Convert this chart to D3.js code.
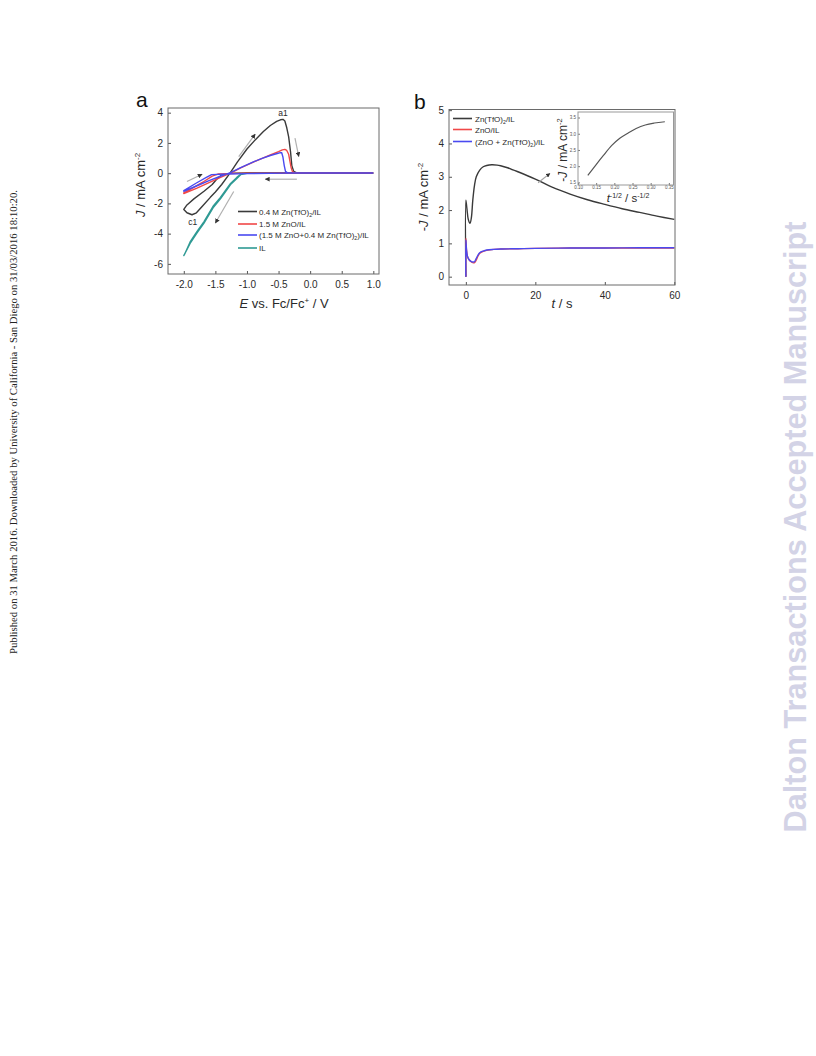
<!DOCTYPE html>
<html><head><meta charset="utf-8">
<script src="https://cdn.jsdelivr.net/npm/d3@7"></script>
<style>body{margin:0;background:#fff} svg{display:block}</style>
</head><body>
<svg id="c" width="816" height="1056"></svg>
<script>
// ---------- DATA ----------
const aXTicks = [-2.0,-1.5,-1.0,-0.5,0.0,0.5,1.0];
const aYTicks = [4,2,0,-2,-4,-6];
const bXTicks = [0,20,40,60];
const bYTicks = [0,1,2,3,4,5];
const inXTicks = [0.10,0.15,0.20,0.25,0.30,0.35];
const inYTicks = [1.5,2.0,2.5,3.0,3.5];

// Panel a: CV curves [E, J]
const cvZnTfO = [[1.0,0.01],[0.5,0.01],[0,0.01],[-0.5,0.01],[-1.0,0.01],[-1.2,0],[-1.3,-0.03],[-1.4,-0.12],[-1.48,-0.4],[-1.55,-0.75],[-1.68,-1.2],[-1.84,-1.7],[-1.95,-2.1],[-2.0,-2.4],[-1.95,-2.62],[-1.87,-2.75],[-1.8,-2.62],[-1.71,-2.2],[-1.58,-1.6],[-1.5,-1.25],[-1.4,-0.75],[-1.26,0.05],[-1.15,0.75],[-1.0,1.6],[-0.87,2.2],[-0.74,2.75],[-0.63,3.15],[-0.53,3.42],[-0.47,3.53],[-0.43,3.56],[-0.4,3.45],[-0.37,3.0],[-0.34,2.4],[-0.31,1.4],[-0.29,0.5],[-0.26,0.12],[-0.22,0.03],[0,0.01],[0.5,0.01],[1.0,0.01]];
const cvZnO = [[1.0,0.0],[0.0,0.0],[-1.0,0.0],[-1.45,-0.05],[-1.55,-0.2],[-1.7,-0.6],[-1.85,-0.95],[-2.0,-1.3],[-2.0,-1.35],[-1.8,-1.0],[-1.6,-0.62],[-1.4,-0.25],[-1.26,0.0],[-1.1,0.35],[-0.89,0.75],[-0.75,1.0],[-0.63,1.2],[-0.5,1.42],[-0.44,1.54],[-0.4,1.57],[-0.37,1.5],[-0.34,1.25],[-0.32,0.8],[-0.3,0.35],[-0.28,0.1],[-0.25,0.02],[0,0.01],[1.0,0.01]];
const cvMix = [[1.0,0.0],[0.0,0.0],[-0.4,0.0],[-1.0,-0.03],[-1.3,-0.06],[-1.56,-0.1],[-1.65,-0.3],[-1.8,-0.65],[-2.0,-1.15],[-2.0,-1.2],[-1.8,-0.85],[-1.6,-0.5],[-1.4,-0.17],[-1.26,0.03],[-1.1,0.36],[-0.89,0.76],[-0.75,1.0],[-0.63,1.17],[-0.52,1.3],[-0.47,1.36],[-0.45,1.35],[-0.43,1.05],[-0.41,0.5],[-0.39,0.12],[-0.36,0.02],[0,0.01],[1.0,0.01]];
const cvIL = [[1.0,0.0],[0.0,0.0],[-0.9,0.0],[-1.0,-0.01],[-1.1,-0.1],[-1.16,-0.35],[-1.26,-0.75],[-1.42,-1.7],[-1.53,-2.25],[-1.68,-3.3],[-1.79,-3.95],[-1.9,-4.65],[-2.0,-5.45],[-1.98,-5.3],[-1.9,-4.55],[-1.79,-3.85],[-1.68,-3.2],[-1.53,-2.15],[-1.42,-1.6],[-1.26,-0.68],[-1.16,-0.28],[-1.1,-0.07],[-1.0,0.0],[0.0,0.0],[1.0,0.0]];

// Panel b: chronoamperometry [t, -J]
const caZnTfO = [[0,0],[0,2.3],[0.3,2.05],[0.7,1.72],[1.2,1.6],[1.6,1.78],[2.0,2.3],[2.5,2.75],[3,3.0],[4,3.2],[5,3.3],[6,3.34],[7.5,3.36],[9,3.35],[10,3.33],[12,3.27],[15,3.15],[20,2.93],[25,2.68],[30,2.48],[35,2.31],[40,2.17],[45,2.04],[50,1.93],[55,1.82],[60,1.72]];
const caZnO = [[0,0],[0,1.15],[0.2,0.8],[0.5,0.6],[1,0.5],[1.5,0.45],[2,0.42],[2.5,0.42],[3,0.5],[3.5,0.62],[4,0.7],[5,0.76],[6,0.79],[8,0.82],[10,0.83],[15,0.84],[20,0.85],[30,0.86],[40,0.86],[50,0.86],[60,0.86]];
const caMix = [[0,0],[0,1.1],[0.2,0.8],[0.5,0.6],[1,0.5],[1.5,0.46],[2,0.44],[2.5,0.45],[3,0.55],[3.5,0.65],[4,0.72],[5,0.77],[6,0.8],[8,0.82],[10,0.83],[15,0.84],[20,0.85],[30,0.86],[40,0.86],[50,0.87],[60,0.87]];
// Inset: [t^-1/2, -J]
const insetData = [[0.127,1.72],[0.15,2.05],[0.17,2.33],[0.193,2.64],[0.215,2.86],[0.239,3.03],[0.26,3.16],[0.285,3.27],[0.31,3.33],[0.339,3.37]];

const colors = {black:"#3a3a3a", red:"#f04848", blue:"#4a4af0", teal:"#2f9a94"};

// ---------- DRAW ----------
const svg = d3.select("#c");
const F = "Liberation Sans, Arial, sans-serif";
const txt = "#2a2a2a";

svg.append("defs").append("marker").attr("id","ah").attr("viewBox","0 0 10 10")
  .attr("refX",9).attr("refY",5).attr("markerWidth",4).attr("markerHeight",4).attr("orient","auto")
  .append("path").attr("d","M0,0L10,5L0,10z").attr("fill","#333");

function frame(g, x0,y0,x1,y1, stroke){
  g.append("rect").attr("x",x0).attr("y",y0).attr("width",x1-x0).attr("height",y1-y0)
    .attr("fill","none").attr("stroke",stroke||"#6a6a6a").attr("stroke-width",1);
}

// ===== Panel a =====
const ax = d3.scaleLinear().domain([-2.25,1.09]).range([168,379]);
const ay = d3.scaleLinear().domain([-6.67,4.31]).range([274,108]);
const ga = svg.append("g");
const lineA = d3.line().x(d=>ax(d[0])).y(d=>ay(d[1]));

const axA = ga.append("g").attr("transform","translate(0,274)")
  .call(d3.axisBottom(ax).tickValues(aXTicks).tickFormat(d=> d<0 ? "-"+Math.abs(d).toFixed(1) : d.toFixed(1)).tickSizeInner(-3).tickSizeOuter(0).tickPadding(7));
const ayA = ga.append("g").attr("transform","translate(168,0)")
  .call(d3.axisLeft(ay).tickValues(aYTicks).tickFormat(d=> d<0 ? "-"+Math.abs(d) : String(d)).tickSizeInner(-3).tickSizeOuter(0).tickPadding(5));
[axA,ayA].forEach(a=>{a.select(".domain").remove(); a.selectAll("line").attr("stroke","#555");
  a.selectAll("text").attr("font-family",F).attr("font-size",10).attr("fill",txt);});

[[cvIL,colors.teal],[cvZnTfO,colors.black],[cvZnO,colors.red],[cvMix,colors.blue]].forEach(([d,c])=>{
  ga.append("path").datum(d).attr("d",lineA).attr("fill","none").attr("stroke",c).attr("stroke-width",1.4).attr("stroke-linejoin","round");
});
frame(ga,168,108,379,274);

const arrowsA = [[[-1.95,-0.55],[-1.71,-0.07]],[[-1.13,1.1],[-0.87,2.58]],[[-0.24,2.31],[-0.18,1.1]],[[-0.21,-0.4],[-0.71,-0.4]],[[-1.21,-1.21],[-1.5,-3.3]]];
arrowsA.forEach(([p,q])=>{
  ga.append("line").attr("x1",ax(p[0])).attr("y1",ay(p[1])).attr("x2",ax(q[0])).attr("y2",ay(q[1]))
    .attr("stroke","#b0b0b0").attr("stroke-width",1.2).attr("marker-end","url(#ah)");
});
ga.append("text").attr("x",ax(-0.43)).attr("y",ay(3.56)-3).attr("text-anchor","middle").attr("font-family",F).attr("font-size",8.5).attr("fill",txt).text("a1");
ga.append("text").attr("x",ax(-1.86)).attr("y",ay(-3.45)).attr("text-anchor","middle").attr("font-family",F).attr("font-size",8.5).attr("fill",txt).text("c1");

const legA = [
  {c:colors.black, parts:[["0.4 M Zn(TfO)",0],["2",1],["/IL",0]]},
  {c:colors.red, parts:[["1.5 M ZnO/IL",0]]},
  {c:colors.blue, parts:[["(1.5 M ZnO+0.4 M Zn(TfO)",0],["2",1],[")/IL",0]]},
  {c:colors.teal, parts:[["IL",0]]}
];
const legAy = [211.5,224,235,248];
function legendRows(g, items, ys, x0, x1, tx, fs){
  items.forEach((it,i)=>{
    g.append("line").attr("x1",x0).attr("x2",x1).attr("y1",ys[i]).attr("y2",ys[i]).attr("stroke",it.c).attr("stroke-width",1.6);
    const t = g.append("text").attr("x",tx).attr("y",ys[i]+3).attr("font-family",F).attr("font-size",fs).attr("fill",txt);
    let shifted=false;
    it.parts.forEach(([s,sub])=>{
      const sp = t.append("tspan").text(s);
      if(sub){ sp.attr("font-size",fs*0.65).attr("dy",2); shifted=true; }
      else if(shifted){ sp.attr("dy",-2); shifted=false; }
    });
  });
}
legendRows(ga, legA, legAy, 238, 257, 259, 8);

const tya = ga.append("text").attr("transform","translate(145,185) rotate(-90)").attr("text-anchor","middle")
  .attr("font-family",F).attr("font-size",13).attr("fill",txt);
tya.append("tspan").attr("font-style","italic").text("J");
tya.append("tspan").text(" / mA cm");
tya.append("tspan").attr("font-size",8).attr("dy",-5).text("-2");
const txa = ga.append("text").attr("x",284).attr("y",308).attr("text-anchor","middle").attr("font-family",F).attr("font-size",13).attr("fill",txt);
txa.append("tspan").attr("font-style","italic").text("E");
txa.append("tspan").text(" vs. Fc/Fc");
txa.append("tspan").attr("font-size",8).attr("dy",-5).text("+");
txa.append("tspan").attr("dy",5).text(" / V");
ga.append("text").attr("x",136).attr("y",107).attr("font-family",F).attr("font-size",21).attr("fill","#111").text("a");

// ===== Panel b =====
const bx = d3.scaleLinear().domain([-4.85,60.2]).range([449,675]);
const by = d3.scaleLinear().domain([-0.25,5.02]).range([285,109.5]);
const gb = svg.append("g");
const lineB = d3.line().x(d=>bx(d[0])).y(d=>by(d[1])).curve(d3.curveCatmullRom.alpha(0.5));
const axB = gb.append("g").attr("transform","translate(0,285)")
  .call(d3.axisBottom(bx).tickValues(bXTicks).tickFormat(d=>String(d)).tickSizeInner(-3).tickSizeOuter(0).tickPadding(7));
const ayB = gb.append("g").attr("transform","translate(449,0)")
  .call(d3.axisLeft(by).tickValues(bYTicks).tickFormat(d=>String(d)).tickSizeInner(-3).tickSizeOuter(0).tickPadding(5));
[axB,ayB].forEach(a=>{a.select(".domain").remove(); a.selectAll("line").attr("stroke","#555");
  a.selectAll("text").attr("font-family",F).attr("font-size",10).attr("fill",txt);});

[[caZnTfO,colors.black],[caZnO,colors.red],[caMix,colors.blue]].forEach(([d,c])=>{
  gb.append("path").datum(d).attr("d",lineB).attr("fill","none").attr("stroke",c).attr("stroke-width",1.4).attr("stroke-linejoin","round");
});
frame(gb,449,109.5,675,285);

const legB = [
  {c:colors.black, parts:[["Zn(TfO)",0],["2",1],["/IL",0]]},
  {c:colors.red, parts:[["ZnO/IL",0]]},
  {c:colors.blue, parts:[["(ZnO + Zn(TfO)",0],["2",1],[")/IL",0]]}
];
legendRows(gb, legB, [118.5,129.5,141.5], 453, 472, 475, 8);

gb.append("line").attr("x1",bx(20.8)).attr("y1",by(2.82)).attr("x2",bx(24.2)).attr("y2",by(3.1))
  .attr("stroke","#a0a0a0").attr("stroke-width",1.1).attr("marker-end","url(#ah)");

const tyb = gb.append("text").attr("transform","translate(428,197) rotate(-90)").attr("text-anchor","middle")
  .attr("font-family",F).attr("font-size",13).attr("fill",txt);
tyb.append("tspan").text("-");
tyb.append("tspan").attr("font-style","italic").text("J");
tyb.append("tspan").text(" / mA cm");
tyb.append("tspan").attr("font-size",8).attr("dy",-5).text("-2");
const txb = gb.append("text").attr("x",562).attr("y",308).attr("text-anchor","middle").attr("font-family",F).attr("font-size",13).attr("fill",txt);
txb.append("tspan").attr("font-style","italic").text("t");
txb.append("tspan").text(" / s");
gb.append("text").attr("x",414).attr("y",109).attr("font-family",F).attr("font-size",21).attr("fill","#111").text("b");

// ===== Inset =====
const ix = d3.scaleLinear().domain([0.10,0.3628]).range([578,673.5]);
const iy = d3.scaleLinear().domain([1.42,3.67]).range([185,112]);
const gi = svg.append("g");
gi.append("rect").attr("x",578).attr("y",112).attr("width",95.5).attr("height",73).attr("fill","#fff");
const axI = gi.append("g").attr("transform","translate(0,185)")
  .call(d3.axisBottom(ix).tickValues(inXTicks).tickFormat(d3.format(".2f")).tickSizeInner(-2).tickSizeOuter(0).tickPadding(1));
const ayI = gi.append("g").attr("transform","translate(578,0)")
  .call(d3.axisLeft(iy).tickValues(inYTicks).tickFormat(d3.format(".1f")).tickSizeInner(-2).tickSizeOuter(0).tickPadding(2));
[axI,ayI].forEach(a=>{a.select(".domain").remove(); a.selectAll("line").attr("stroke","#777");
  a.selectAll("text").attr("font-family",F).attr("font-size",4.5).attr("fill","#555");});
gi.append("path").datum(insetData).attr("d",d3.line().x(d=>ix(d[0])).y(d=>iy(d[1])).curve(d3.curveMonotoneX))
  .attr("fill","none").attr("stroke","#555").attr("stroke-width",1.2);
frame(gi,578,112,673.5,185,"#999");
const tyi = gi.append("text").attr("transform","translate(567,150) rotate(-90)").attr("text-anchor","middle")
  .attr("font-family",F).attr("font-size",12).attr("fill",txt);
tyi.append("tspan").text("-");
tyi.append("tspan").attr("font-style","italic").text("J");
tyi.append("tspan").text(" / mA cm");
tyi.append("tspan").attr("font-size",7.5).attr("dy",-5).text("-2");
const txi = gi.append("text").attr("x",628).attr("y",202).attr("text-anchor","middle").attr("font-family",F).attr("font-size",11.5).attr("fill",txt);
txi.append("tspan").attr("font-style","italic").text("t");
txi.append("tspan").attr("font-size",7).attr("dy",-4).text("-1/2");
txi.append("tspan").attr("dy",4).text(" / s");
txi.append("tspan").attr("font-size",7).attr("dy",-4).text("-1/2");

// ===== Side texts =====
svg.append("text").attr("transform","translate(16.5,422) rotate(-90)").attr("text-anchor","middle")
  .attr("font-family","Liberation Serif, Times New Roman, serif").attr("font-size",10.7).attr("fill","#222")
  .text("Published on 31 March 2016. Downloaded by University of California - San Diego on 31/03/2016 18:10:20.");
svg.append("text").attr("transform","translate(806,527) rotate(-90)").attr("text-anchor","middle")
  .attr("font-family","Liberation Sans, Arial, sans-serif").attr("font-weight","bold").attr("font-size",30.7).attr("fill","#d3d3e6")
  .text("Dalton Transactions Accepted Manuscript");
</script>
</body></html>
